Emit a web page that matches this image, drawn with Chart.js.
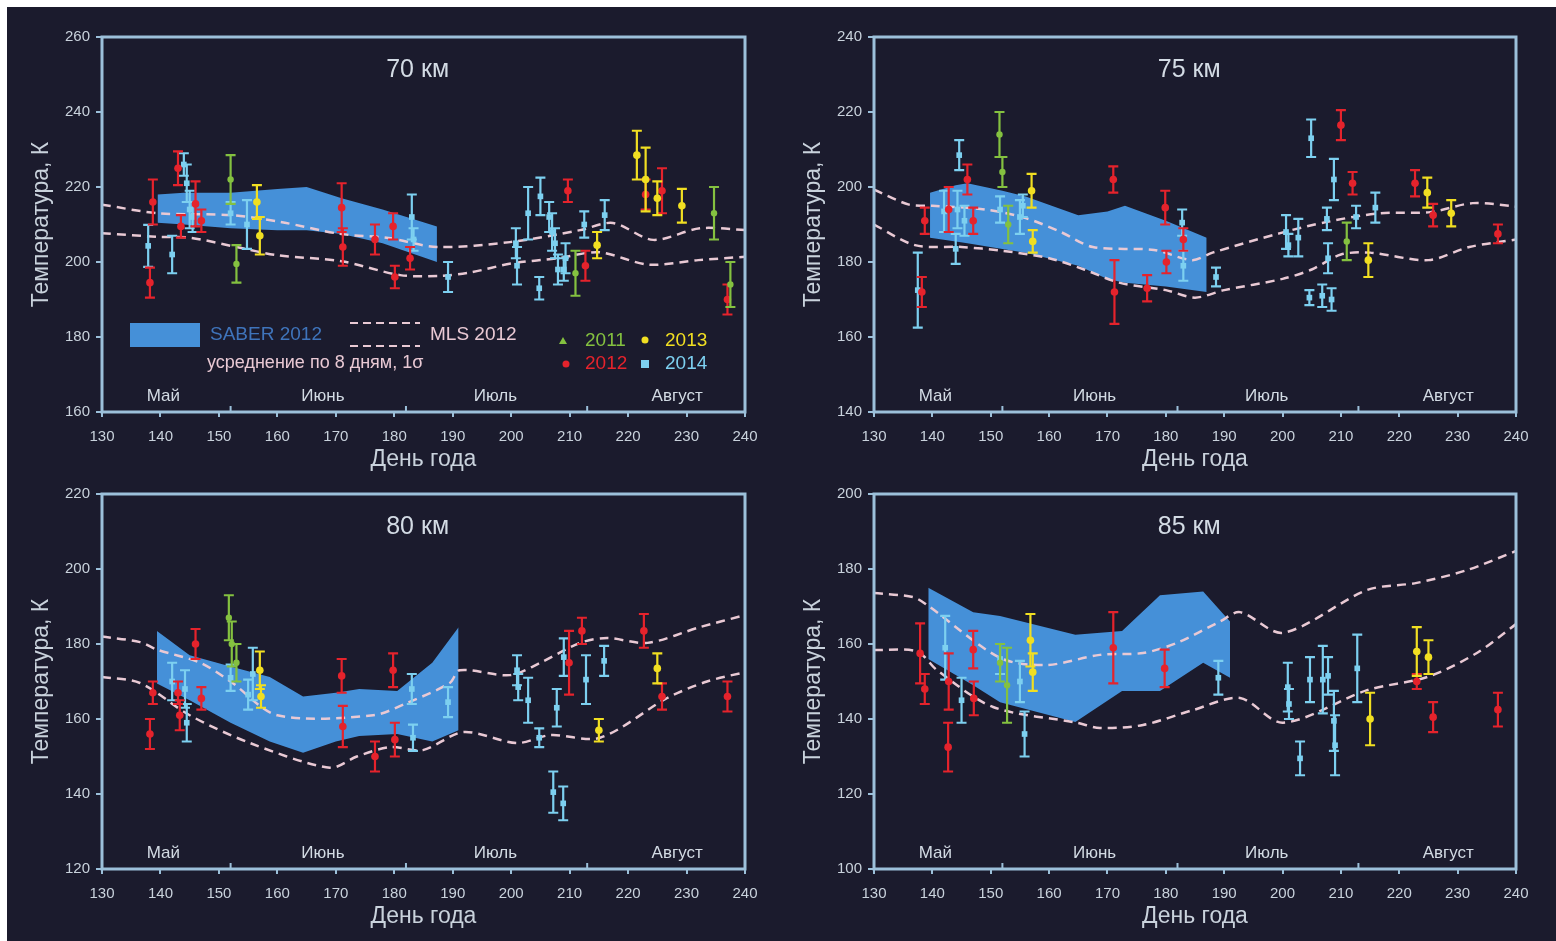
<!DOCTYPE html>
<html>
<head>
<meta charset="utf-8">
<script src="https://cdn.jsdelivr.net/npm/chart.js@4.4.1/dist/chart.umd.min.js"></script>
<style>
  html, body { margin: 0; padding: 0; background: #ffffff; width: 1556px; height: 941px; overflow: hidden; }
  #bg { position: absolute; left: 7px; top: 7px; width: 1549px; height: 934px; background: #1b1b2d; }
  canvas { position: absolute; }
</style>
</head>
<body>
<div id="bg"></div>
<canvas id="c70" width="780" height="473" style="left:7px;top:7px;width:780px;height:473px"></canvas>
<canvas id="c75" width="777" height="473" style="left:779px;top:7px;width:777px;height:473px"></canvas>
<canvas id="c80" width="780" height="477" style="left:7px;top:464px;width:780px;height:477px"></canvas>
<canvas id="c85" width="777" height="477" style="left:779px;top:464px;width:777px;height:477px"></canvas>
<script>
// ---- Axis ticks and labels ----
const dayTicks = [130, 140, 150, 160, 170, 180, 190, 200, 210, 220, 230, 240];
const monthNames = ['Май', 'Июнь', 'Июль', 'Август'];
const monthLabelDays = [140.5, 167.8, 197.3, 228.4];
const monthStartDays = [152, 182, 213];
const yTicks70 = [160, 180, 200, 220, 240, 260];
const yTicks75 = [140, 160, 180, 200, 220, 240];
const yTicks80 = [120, 140, 160, 180, 200, 220];
const yTicks85 = [100, 120, 140, 160, 180, 200];

// ---- 70 km ----
const saber70Day = [139.5, 144, 152, 160, 165, 171, 178, 187.3];
const saber70Hi  = [218, 218.5, 218.5, 219.5, 220, 217, 214, 209.5];
const saber70Lo  = [210.5, 210, 209, 208.5, 208.5, 207.5, 205, 200];
const mls70Hi = [[130,215.3],[139.6,213],[152,212.5],[160.5,210.7],[170.7,207.5],[179,206.4],[187.3,204],[199.8,205.3],[211.8,208.5],[217.4,210.4],[224.3,205.9],[232.3,209],[240,208.5]];
const mls70Lo = [[130,207.7],[139.6,206.7],[145,206.5],[153,204],[160,201.8],[171,200.2],[181,196.5],[188,196.3],[193,197.2],[200,199.6],[208,201],[215,202.6],[223.5,199.3],[232,200.5],[240,201.4]];
// rows: [day, temperature, 1σ]
const t70y2011 = [[152,222,6.5],[153,199.5,5],[211,197,6],[234.7,213,7],[237.5,194,6]];
const t70y2012 = [[138.2,194.5,4],[138.7,216,6],[143,225,4.5],[143.5,209.5,3],[146,215.5,6],[147,211,3],[171,214.5,6.5],[171.2,204,5],[176.7,206,4],[179.8,209.5,3.5],[180.1,196,3],[182.7,201,3],[209.7,219,3],[212.7,199,4],[223,218,4],[225.8,219,6],[237,190,4]];
const t70y2013 = [[156.5,216,4.5],[157,207,5],[214.7,204.5,3.5],[221.5,228.5,6.5],[223,222,8.5],[225,217,4.5],[229.2,215,4.5]];
const t70y2014 = [[137.9,204.3,5.6],[142,202,5],[144,226,3],[144.5,221,5],[145,214,5],[145.5,212,4],[152,213,3],[154.8,210,6.5],[183,212,6],[183.3,206,3],[189.2,196,4],[200.8,205,4],[201,199,5],[202.9,213,7],[204.8,193,3],[205,217.5,5],[206.5,212,4],[207,208,5],[207.5,205,4],[208,198,4],[209,198,3],[209.3,201,4],[212.5,210,3.5],[216,212.5,4]];

// ---- 75 km ----
const saber75Day = [139.6, 144, 146, 152, 156, 165, 170, 173, 180, 187];
const saber75Hi  = [198.5, 200.5, 201, 199, 197.5, 192.5, 193.5, 195, 191, 186.5];
const saber75Lo  = [186.5, 185.5, 185, 183.5, 182.5, 179, 175.5, 174.5, 173.5, 172];
const mls75Hi = [[130,199.3],[136,195.3],[140,195],[149,194],[156,191.7],[162,188],[167.5,184],[178,183.2],[184.5,180.5],[188,182.5],[199.6,187.7],[207.6,190.7],[216.7,193],[225.3,193.3],[232.6,195.7],[240,194.8]];
const mls75Lo = [[130,190],[137,184.5],[145,184],[152,183],[160,181],[166,178],[172,174.5],[180,172.5],[185,170.5],[190,172.5],[200,175.5],[205,178],[210,182],[215,182.5],[225,180.5],[232,184],[240,186]];
const t75y2011 = [[151.5,214,6],[152,204,4],[153,190,5],[211,185.5,5]];
const t75y2012 = [[138.2,172,4],[138.7,191,3.5],[142.8,194,6],[146,202,4],[147,191,3.5],[171,202,3.5],[171.2,172,8.5],[176.8,173,3.5],[179.9,194.5,4.5],[180.1,180,3],[183,186,3],[210,216.5,4],[212,201,3],[222.7,201,3.5],[225.8,192.5,3],[236.9,187.5,2.5]];
const t75y2013 = [[157,199,4.5],[157.2,185.5,3],[214.7,180.5,4.5],[224.8,198.5,4],[228.9,193,3.5]];
const t75y2014 = [[137.5,172.5,10],[142,193.5,5.5],[144,183.5,4],[144.3,194,5],[144.6,208.5,4],[145.5,191,4],[151.6,194,3.5],[155,192,4.5],[155.5,195,3],[182.8,190.5,3.5],[183,179,4],[188.6,176,2.5],[200.6,188,4.5],[201,184.5,3],[202.7,186.5,5],[204.6,170.5,2],[204.9,213,5],[206.8,171,3],[207.6,191.5,3],[207.8,181,4],[208.4,170,3],[208.8,202,5.5],[212.6,192,3],[215.9,194.5,4]];

// ---- 80 km ----
const saber80Day = [139.4, 145, 152, 158.7, 164.4, 170, 174, 180.5, 186.5, 191];
const saber80Hi  = [183.5, 177, 174, 171.2, 166, 167, 168, 167.5, 175, 184.5];
const saber80Lo  = [169.5, 165, 159, 154, 151, 154, 155.5, 156, 154, 157];
const mls80Hi = [[130,182],[136.5,180.5],[139.4,178.5],[146.8,175],[152,170],[160,161],[176.4,161],[182.2,164.3],[189.5,169.6],[191.2,173],[199.8,171.7],[205,175],[211.8,180.3],[216.4,181.6],[223.3,180.3],[232.3,184.5],[240,187.7]];
const mls80Lo = [[130,171.2],[136.5,169.6],[145,161],[155.3,153.6],[169,147],[173.6,150],[179.3,152.5],[184.9,151.7],[191.8,156.5],[201,153.6],[206.7,155.7],[215.2,155],[226.7,165.6],[233.5,170],[240,172.5]];
const t80y2011 = [[151.7,187,6],[152.2,180,6],[153,175,5]];
const t80y2012 = [[138.2,156,4],[138.7,167,3],[143,167,3],[143.3,161,4],[146,180,4],[147,165.5,3],[171,171.5,4.5],[171.2,158,5.5],[176.7,150,4],[179.8,173,4.5],[180.1,154.5,4.5],[209.9,175,8.5],[212.1,183.5,3.5],[222.7,183.5,4.5],[225.8,166,3.5],[237,166,4]];
const t80y2013 = [[157,173,5],[157.2,166,3],[215,157,3],[225,173.5,4]];
const t80y2014 = [[142,170,5],[144.2,168,5],[144.5,159,5],[152,171,3.5],[155,166.5,4],[155.8,172,7],[183,168,4],[183.2,155,3.5],[189.2,164.5,4],[201,173,4],[201.2,168.5,3.5],[202.9,165,6],[204.8,155,2.5],[207.2,140.5,5.5],[207.8,163,5],[208.9,137.5,4.5],[209,176.5,5],[212.8,170.5,6.5],[215.9,175.5,4]];

// ---- 85 km ----
const saber85Day = [139.3, 147, 151.6, 164.5, 172.5, 179, 186.4, 191];
const saber85Hi  = [175, 168.5, 167.5, 162.5, 163.5, 173, 174, 166];
const saber85Lo  = [156, 149, 144.5, 139.2, 147.5, 147.5, 155, 151];
const mls85Hi = [[130,173.6],[136.7,172.5],[139.1,170.4],[151.6,156.3],[159.6,154.4],[168.7,157.1],[176.1,157.6],[181.9,160.3],[189.3,166],[192.7,168.5],[200.1,163],[214.5,174.4],[223,176.3],[231.6,179.7],[240,184.8]];
const mls85Lo = [[130,158.4],[137.4,158],[140.8,153],[150.4,143.2],[164.8,139],[168.7,137.6],[176.1,138.4],[184.7,142.4],[192.7,145.6],[200.1,139],[214.5,147.7],[224.8,151.2],[233.3,157.6],[240,165.3]];
const t85y2011 = [[151.6,155,5],[152.8,149,10]];
const t85y2012 = [[137.9,157.5,8],[138.7,148,4],[142.7,132.5,6.5],[142.8,150,7.5],[147,158.5,5],[147.1,145.5,4.5],[171,159,9.5],[179.8,153.5,5],[223,150,2],[225.8,140.5,4],[236.9,142.5,4.5]];
const t85y2013 = [[156.8,161,7],[157.2,152.5,5],[215,140,7],[223,158,6.5],[225,156.5,4.5]];
const t85y2014 = [[142.2,159,8.5],[145,145,6],[151.6,156,4],[155,150,5.5],[155.8,136,6],[189,151,4.5],[200.9,148.5,6.5],[201.1,144,4],[203,129.5,4.5],[204.7,150.5,6],[206.9,150.5,9],[207.8,151.5,5],[208.8,139.5,8],[209,133,8],[212.8,153.5,9]];

// ---- Styling ----
const FONT = '"Liberation Sans", Arial, sans-serif';
const AXIS = '#9cc0da';
const TXT = '#c9d2dc';
const BAND = '#4590d8';
const MLS = '#e9c9d4';
const C2011 = '#84c140';
const C2012 = '#e5232c';
const C2013 = '#f1df22';
const C2014 = '#7dd0f0';

function bandSets(days, hi, lo) {
  return [
    { type: 'line', data: days.map((d, i) => ({ x: d, y: hi[i] })), borderWidth: 0, pointRadius: 0,
      backgroundColor: BAND, fill: '+1', tension: 0, order: 3 },
    { type: 'line', data: days.map((d, i) => ({ x: d, y: lo[i] })), borderWidth: 0, pointRadius: 0,
      backgroundColor: BAND, fill: false, tension: 0, order: 3 }
  ];
}
function mlsSet(pairs) {
  return { type: 'line', data: pairs.map(p => ({ x: p[0], y: p[1] })), borderColor: MLS, borderWidth: 2.5,
    borderDash: [9, 6], pointRadius: 0, tension: 0.3, fill: false, order: 2 };
}
function obsSet(rows, color, style, r) {
  return { type: 'scatter', data: rows.map(p => ({ x: p[0], y: p[1] })), errs: rows.map(p => p[2]),
    backgroundColor: color, borderColor: color, pointStyle: style, pointRadius: r, borderWidth: 0, order: 1 };
}

// vertical 1σ bars with caps, drawn just before each observation set
const errorBars = {
  id: 'errorBars',
  beforeDatasetDraw(chart, args) {
    const ds = chart.data.datasets[args.index];
    if (!ds.errs) return;
    const { ctx } = chart, xs = chart.scales.x, ys = chart.scales.y;
    ctx.save();
    ctx.strokeStyle = ds.borderColor;
    ctx.lineWidth = 2.2;
    ds.data.forEach((p, i) => {
      const px = xs.getPixelForValue(p.x);
      const top = ys.getPixelForValue(p.y + ds.errs[i]);
      const bot = ys.getPixelForValue(p.y - ds.errs[i]);
      ctx.beginPath();
      ctx.moveTo(px, top); ctx.lineTo(px, bot);
      ctx.moveTo(px - 5, top); ctx.lineTo(px + 5, top);
      ctx.moveTo(px - 5, bot); ctx.lineTo(px + 5, bot);
      ctx.stroke();
    });
    ctx.restore();
  }
};

// frame, panel title, month names and the key
const panelDecor = {
  id: 'panelDecor',
  afterDraw(chart, args, opts) {
    const { ctx, chartArea: a } = chart, xs = chart.scales.x;
    ctx.save();
    ctx.strokeStyle = AXIS;
    ctx.lineWidth = 3;
    ctx.strokeRect(a.left, a.top, a.right - a.left, a.bottom - a.top);
    ctx.lineWidth = 2;
    monthStartDays.forEach(d => {
      const px = xs.getPixelForValue(d);
      ctx.beginPath(); ctx.moveTo(px, a.bottom); ctx.lineTo(px, a.bottom - 6); ctx.stroke();
    });
    ctx.fillStyle = '#d3dbe4';
    ctx.textAlign = 'center';
    ctx.textBaseline = 'middle';
    ctx.font = '25px ' + FONT;
    ctx.fillText(opts.title, xs.getPixelForValue(184), a.top + 33);
    ctx.font = '17px ' + FONT;
    monthNames.forEach((m, i) => ctx.fillText(m, xs.getPixelForValue(monthLabelDays[i]), a.bottom - 16));
    if (opts.key) {
      const L = a.left, T = a.top;
      ctx.fillStyle = BAND;
      ctx.fillRect(L + 28, T + 286, 70, 24);
      ctx.textAlign = 'left';
      ctx.font = '19px ' + FONT;
      ctx.fillStyle = '#3f74bb';
      ctx.fillText('SABER 2012', L + 108, T + 298);
      ctx.strokeStyle = MLS; ctx.lineWidth = 2; ctx.setLineDash([8, 5]);
      ctx.beginPath();
      ctx.moveTo(L + 248, T + 286); ctx.lineTo(L + 318, T + 286);
      ctx.moveTo(L + 248, T + 309); ctx.lineTo(L + 318, T + 309);
      ctx.stroke();
      ctx.setLineDash([]);
      ctx.fillStyle = MLS;
      ctx.fillText('MLS 2012', L + 328, T + 298);
      ctx.font = '18px ' + FONT;
      ctx.fillText('усреднение по 8 дням, 1σ', L + 105, T + 326);
      ctx.font = '19px ' + FONT;
      // year markers
      ctx.fillStyle = C2011;
      ctx.beginPath(); ctx.moveTo(L + 461, T + 300); ctx.lineTo(L + 465, T + 307); ctx.lineTo(L + 457, T + 307); ctx.closePath(); ctx.fill();
      ctx.fillText('2011', L + 483, T + 304);
      ctx.fillStyle = C2013;
      ctx.beginPath(); ctx.arc(L + 543, T + 303, 3.5, 0, Math.PI * 2); ctx.fill();
      ctx.fillText('2013', L + 563, T + 304);
      ctx.fillStyle = C2012;
      ctx.beginPath(); ctx.arc(L + 464, T + 327, 3.5, 0, Math.PI * 2); ctx.fill();
      ctx.fillText('2012', L + 483, T + 327);
      ctx.fillStyle = C2014;
      ctx.fillRect(L + 539, T + 323, 8, 8);
      ctx.fillText('2014', L + 563, T + 327);
    }
    ctx.restore();
  }
};

function makePanel(id, title, yTicks, days, hi, lo, mlsHi, mlsLo, y11, y12, y13, y14, key, canvasH) {
  const ctx = document.getElementById(id);
  const datasets = [
    obsSet(y11, C2011, 'circle', 3.2),
    obsSet(y13, C2013, 'circle', 3.8),
    obsSet(y12, C2012, 'circle', 3.8),
    obsSet(y14, C2014, 'rect', 4),
    mlsSet(mlsHi),
    mlsSet(mlsLo),
    ...bandSets(days, hi, lo)
  ];
  const bottomSpace = canvasH - 405;
  return new Chart(ctx, {
    type: 'scatter',
    data: { datasets },
    options: {
      responsive: false,
      animation: false,
      events: [],
      layout: { padding: { top: 30, right: id === 'c70' || id === 'c80' ? 42 : 40, bottom: 0, left: 0 } },
      plugins: {
        legend: { display: false },
        tooltip: { enabled: false },
        panelDecor: { title, key }
      },
      scales: {
        x: {
          type: 'linear', min: dayTicks[0], max: dayTicks[dayTicks.length - 1],
          afterBuildTicks: s => { s.ticks = dayTicks.map(v => ({ value: v })); },
          afterFit: s => { s.height = bottomSpace; },
          ticks: { color: TXT, font: { family: FONT, size: 15 }, padding: 11, maxRotation: 0, autoSkip: false },
          grid: { display: true, drawOnChartArea: false, drawTicks: true, tickLength: 5, color: AXIS, lineWidth: 2 },
          border: { display: false },
          title: { display: true, text: 'День года', color: TXT, font: { family: FONT, size: 23 },
                   padding: { top: 0, bottom: canvasH === 473 ? 7 : 11 } }
        },
        y: {
          type: 'linear', min: yTicks[0], max: yTicks[yTicks.length - 1],
          afterBuildTicks: s => { s.ticks = yTicks.map(v => ({ value: v })); },
          afterFit: s => { s.width = 95; },
          ticks: { color: TXT, font: { family: FONT, size: 15 }, padding: 6 },
          grid: { display: true, drawOnChartArea: false, drawTicks: true, tickLength: 6, color: AXIS, lineWidth: 2 },
          border: { display: false },
          title: { display: true, text: 'Температура, К', color: TXT, font: { family: FONT, size: 23 },
                   padding: { top: 21, bottom: 0 } }
        }
      }
    },
    plugins: [errorBars, panelDecor]
  });
}

makePanel('c70', '70 км', yTicks70, saber70Day, saber70Hi, saber70Lo, mls70Hi, mls70Lo, t70y2011, t70y2012, t70y2013, t70y2014, true, 473);
makePanel('c75', '75 км', yTicks75, saber75Day, saber75Hi, saber75Lo, mls75Hi, mls75Lo, t75y2011, t75y2012, t75y2013, t75y2014, false, 473);
makePanel('c80', '80 км', yTicks80, saber80Day, saber80Hi, saber80Lo, mls80Hi, mls80Lo, t80y2011, t80y2012, t80y2013, t80y2014, false, 477);
makePanel('c85', '85 км', yTicks85, saber85Day, saber85Hi, saber85Lo, mls85Hi, mls85Lo, t85y2011, t85y2012, t85y2013, t85y2014, false, 477);
</script>
</body>
</html>
